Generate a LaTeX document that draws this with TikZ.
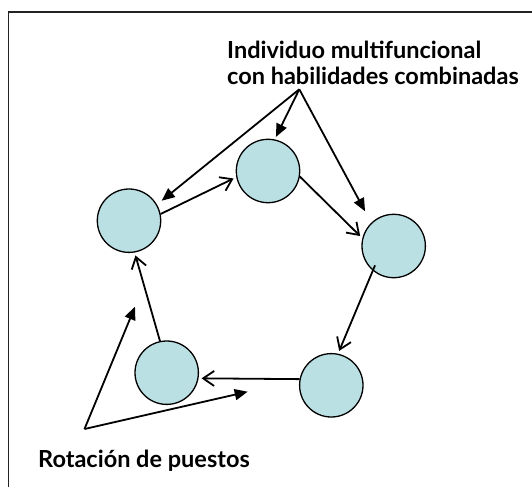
\documentclass[tikz,border=0pt]{standalone}
\usepackage{fontspec}
\setmainfont{Lato}
\usetikzlibrary{arrows.meta,calc}
\definecolor{circfill}{HTML}{BBE0E3}
\definecolor{framec}{HTML}{222222}
\tikzset{
  person/.style={circle, draw=black, line width=1.3pt, fill=circfill, minimum size=63.4pt, inner sep=0pt},
  flow/.style={line width=1.8pt, -{Straight Barb[length=11pt,width=15pt,line width=1.8pt]}, shorten >=3pt},
  pointer/.style={line width=1.8pt, -{Triangle[length=13pt,width=11pt]}},
  lbl/.style={font=\fontsize{23.5}{25.7}\selectfont\bfseries, inner sep=0pt, align=left}
}
\begin{document}
\begin{tikzpicture}[x=1pt,y=-1pt]
\useasboundingbox (0,0) rectangle (532,487);
\draw[framec, line width=1.5pt] (8.5,487) |- (532,12);

\node[person] (c1) at (129,220.7) {};
\node[person] (c2) at (268,171) {};
\node[person] (c3) at (393.7,246) {};
\node[person] (c4) at (331.3,385.3) {};
\node[person] (c5) at (166.7,372.7) {};

\node[lbl, anchor=north west] (top) at (227,40.8) {Individuo multifuncional\\con habilidades combinadas};
\node[lbl, anchor=base west] (bot) at (38,467) {Rotación de puestos};

\coordinate (apexT) at (299.3,89.3);
\coordinate (apexB) at (84.5,429);
\coordinate (tipB1) at (135,306.7);
\coordinate (tipB2) at (247.7,391.7);

\draw[flow] (c1.12) -- (c2.191);
\draw[flow] (c2.-10) -- (c3.166);
\draw[flow] ($(c3.center)!0.83!(c3.226.5)$) -- (c4.78.6);
\draw[flow] (c4.169) -- (c5.-10.5);
\draw[flow] (c5.102) -- (c1.-80.5);

\draw[pointer, shorten >=6pt] (apexT) -- (c1.30);
\draw[pointer, shorten >=2.7pt] (apexT) -- (c2.78.4);
\draw[pointer, shorten >=13pt] (apexT) -- (c3.134);

\draw[pointer] (apexB) -- (tipB1);
\draw[pointer] (apexB) -- (tipB2);
\end{tikzpicture}
\end{document}
